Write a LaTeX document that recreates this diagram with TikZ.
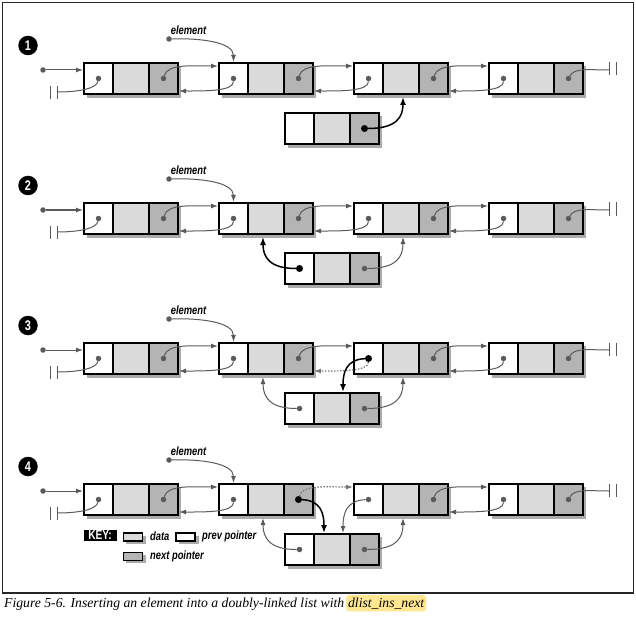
\documentclass[tikz,border=0pt]{standalone}
\usepackage{fontspec}
\setmainfont{Liberation Serif}
\newfontfamily\lblfont[FakeStretch=0.78]{Liberation Sans}
\usetikzlibrary{arrows.meta}
\definecolor{ptrgray}{HTML}{5A5A5A}
\definecolor{dotgray}{HTML}{777777}
\definecolor{datagray}{HTML}{DADADA}
\definecolor{nextgray}{HTML}{B4B4B4}
\definecolor{shadowc}{HTML}{ABABAB}
\definecolor{hlyellow}{HTML}{FFE690}
\tikzset{
  cellbase/.style={draw=black, line width=2pt, inner sep=0pt, minimum height=31pt},
  cellp/.style={cellbase, fill=white, minimum width=29pt},
  celld/.style={cellbase, fill=datagray, minimum width=36pt},
  celln/.style={cellbase, fill=nextgray, minimum width=29pt},
  dot/.style={circle, fill=ptrgray, inner sep=0pt, minimum size=5.5pt},
  bdot/.style={circle, fill=black, inner sep=0pt, minimum size=7pt},
  gline/.style={draw=ptrgray, line width=1pt},
  gptr/.style={gline, -{Latex[length=7pt,width=5pt]}},
  bptr/.style={draw=black, line width=1.5pt, -{Latex[length=8pt,width=6pt]}},
  dptr/.style={draw=dotgray, line width=1.2pt, dash pattern=on 1.5pt off 1.5pt, -{Latex[length=7pt,width=5pt]}},
  nullbar/.style={draw=ptrgray, line width=1pt},
  numc/.style={circle, fill=black, inner sep=0pt, minimum size=19.5pt, text=white,
    font=\lblfont\bfseries\fontsize{14}{14}\selectfont},
  lbl/.style={inner sep=0pt, font=\lblfont\bfseries\itshape\fontsize{12}{13}\selectfont},
  keyc/.style={draw=black, line width=1.6pt, inner sep=0pt, minimum width=19pt, minimum height=8pt},
}
% list node: name, x of left edge, y of top edge
\newcommand\dllnode[3]{%
  \fill[shadowc] (#2+3,#3+3) rectangle (#2+97,#3+35);
  \node[cellp] (#1p) at (#2+14.5,#3+15.5) {};
  \node[celld] (#1d) at (#2+47,#3+15.5) {};
  \node[celln] (#1n) at (#2+79.5,#3+15.5) {};
}
\newcommand\dllptrs[1]{%
  \node[dot] (#1pd) at (#1p) {};
  \node[dot] (#1nd) at (#1n) {};
}
% one row: prefix, y offset, number
\newcommand\dllrow[3]{%
  \node[numc] (#1num) at (28,45.5+#2) {#3};
  \dllnode{#1a}{84}{63+#2}
  \dllnode{#1b}{219}{63+#2}
  \dllnode{#1c}{354}{63+#2}
  \dllnode{#1d}{489}{63+#2}
  \dllnode{#1x}{285}{113+#2}
  \dllptrs{#1a}\dllptrs{#1b}\dllptrs{#1c}\dllptrs{#1d}
  \node[dot] (#1ed) at (169,39+#2) {};
  \node[lbl] (#1el) at (188.5,30+#2) {element};
  \draw[gptr] (#1ed) .. controls +(31,-1) and +(0,-20) .. (#1bp.north);
  \node[dot] (#1hd) at (43,70+#2) {};
  \draw[gptr] (#1hd) -- (#1hd -| #1ap.west);
  \coordinate (#1ln) at (57,92+#2);
  \draw[nullbar] (50.5,86+#2) -- (50.5,99+#2) (57,86+#2) -- (57,99+#2);
  \draw[gline] (#1apd) .. controls +(-2,10) and +(22,0) .. (#1ln);
  \coordinate (#1rn) at (609,70+#2);
  \draw[nullbar] (609,62.5+#2) -- (609,75.5+#2) (616,62.5+#2) -- (616,75.5+#2);
  \draw[gline] (#1dnd) .. controls +(6,-11) and +(-20,0) .. (#1rn);
  \draw[gptr] (#1and) .. controls +(4,-15) and +(-25,0) .. ([yshift=-4pt]#1bp.north west);
  \draw[gptr] (#1bpd) .. controls +(0,13) and +(25,0) .. ([yshift=4pt]#1an.south east);
  \draw[gptr] (#1cnd) .. controls +(4,-15) and +(-25,0) .. ([yshift=-4pt]#1dp.north west);
  \draw[gptr] (#1dpd) .. controls +(0,13) and +(25,0) .. ([yshift=4pt]#1cn.south east);
}
\begin{document}
\begin{tikzpicture}[x=1pt, y=-1pt]
\useasboundingbox (0,0) rectangle (636,620);
\draw[line width=1.2pt, draw=black!85] (2.5,2.5) rectangle (633.5,593);

% ---------- row 1
\dllrow{r1}{0}{1}
\draw[gptr] (r1bnd) .. controls +(4,-15) and +(-25,0) .. ([yshift=-4pt]r1cp.north west);
\draw[gptr] (r1cpd) .. controls +(0,13) and +(25,0) .. ([yshift=4pt]r1bn.south east);
\node[bdot] (r1xnb) at (r1xn) {};
\draw[bptr] (r1xnb) .. controls +(32,0) and +(0,20) .. ([xshift=2pt,yshift=-2pt]r1cd.south);

% ---------- row 2
\dllrow{r2}{140}{2}
\draw[gptr] (r2bnd) .. controls +(4,-15) and +(-25,0) .. ([yshift=-4pt]r2cp.north west);
\draw[gptr] (r2cpd) .. controls +(0,13) and +(25,0) .. ([yshift=4pt]r2bn.south east);
\node[bdot] (r2xpb) at (r2xp) {};
\node[dot] (r2xnd) at (r2xn) {};
\draw[bptr] (r2xpb) .. controls +(-30,0) and +(0,20) .. ([xshift=-3pt,yshift=-2pt]r2bd.south);
\draw[gptr] (r2xnd) .. controls +(32,0) and +(0,20) .. ([xshift=2pt,yshift=-2pt]r2cd.south);

% ---------- row 3
\dllrow{r3}{280}{3}
\draw[gptr] (r3bnd) .. controls +(4,-15) and +(-25,0) .. ([yshift=-4pt]r3cp.north west);
\node[bdot] (r3cpb) at (r3cp) {};
\draw[dptr] (r3cpb) .. controls +(0,13) and +(25,0) .. ([yshift=4pt]r3bn.south east);
\draw[bptr] (r3cpb) .. controls +(-22,1) and +(0,-20) .. ([xshift=11pt]r3xd.north);
\node[dot] (r3xpd) at (r3xp) {};
\node[dot] (r3xnd) at (r3xn) {};
\draw[gptr] (r3xpd) .. controls +(-30,0) and +(0,20) .. ([xshift=-3pt,yshift=-2pt]r3bd.south);
\draw[gptr] (r3xnd) .. controls +(32,0) and +(0,20) .. ([xshift=2pt,yshift=-2pt]r3cd.south);

% ---------- row 4
\dllrow{r4}{421}{4}
\node[bdot] (r4bnb) at (r4bn) {};
\draw[dptr] (r4bnb) .. controls +(4,-15) and +(-25,0) .. ([yshift=-4pt]r4cp.north west);
\draw[bptr] (r4bnb) .. controls +(22,1) and +(0,-20) .. ([xshift=-8pt]r4xd.north);
\draw[gptr] (r4cpd) .. controls +(-22,1) and +(0,-20) .. ([xshift=11pt]r4xd.north);
\node[dot] (r4xpd) at (r4xp) {};
\node[dot] (r4xnd) at (r4xn) {};
\draw[gptr] (r4xpd) .. controls +(-30,0) and +(0,20) .. ([xshift=-3pt,yshift=-2pt]r4bd.south);
\draw[gptr] (r4xnd) .. controls +(32,0) and +(0,20) .. ([xshift=2pt,yshift=-2pt]r4cd.south);

% ---------- key
\node[fill=black, text=white, inner sep=0pt, minimum width=33pt, minimum height=11pt,
  font=\lblfont\bfseries\fontsize{13}{13}\selectfont] (keyk) at (100,535.5) {KEY:};
\fill[shadowc] (125.5,535.5) rectangle (145.5,543.5);
\node[keyc, fill=datagray] (keyd) at (133,537) {};
\fill[shadowc] (178.5,535.5) rectangle (198.5,543.5);
\node[keyc, fill=white] (keyp) at (185.5,537) {};
\fill[shadowc] (125.5,555) rectangle (145.5,563);
\node[keyc, fill=nextgray] (keyn) at (133,556.5) {};
\node[lbl, anchor=west] (keydl) at (150,536.5) {data};
\node[lbl, anchor=west] (keypl) at (202,536.5) {prev pointer};
\node[lbl, anchor=west] (keynl) at (150,556) {next pointer};

% ---------- caption
\node[anchor=base west, inner sep=0pt, font=\itshape\fontsize{13.7}{16}\selectfont] (capt) at (4,607)
  {Figure 5-6. Inserting an element into a doubly-linked list with};
\node[anchor=base west, inner xsep=2pt, inner ysep=2.5pt, fill=hlyellow, rounded corners=3pt,
  font=\itshape\fontsize{13.7}{16}\selectfont] (capthl) at ([xshift=1.5pt]capt.base east) {dlist\_ins\_next};
\end{tikzpicture}
\end{document}
